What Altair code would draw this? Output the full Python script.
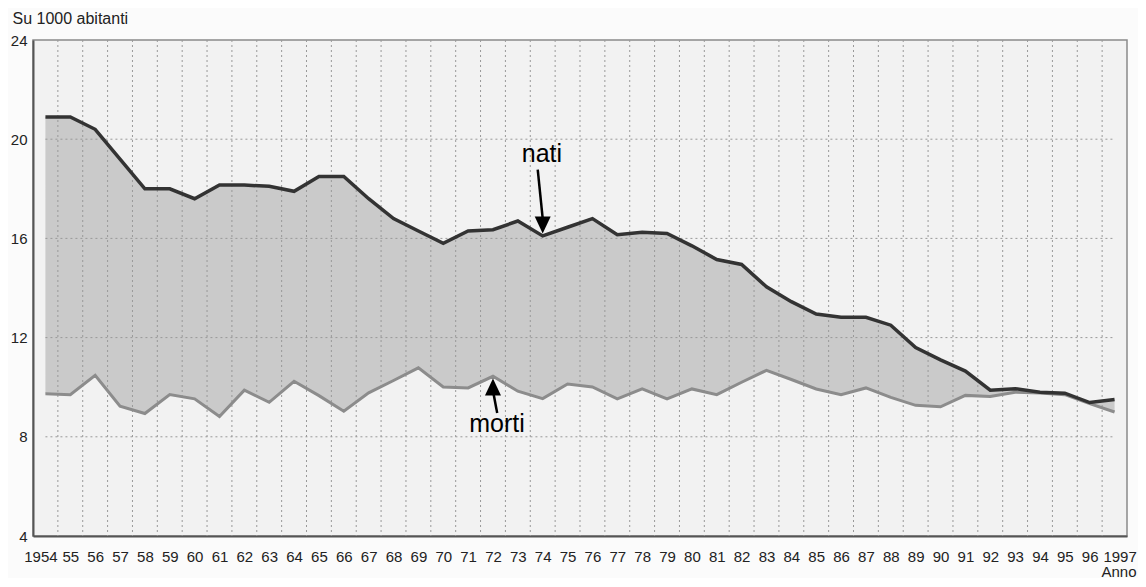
import altair as alt
import pandas as pd

# ---- data ----
years = list(range(1954, 1998))
nati = [20.9, 20.9, 20.4, 19.2, 18.0, 18.0, 17.6, 18.15, 18.15, 18.1,
        17.9, 18.5, 18.5, 17.6, 16.8, 16.3, 15.8, 16.3, 16.35, 16.7,
        16.1, 16.45, 16.8, 16.15, 16.25, 16.2, 15.7, 15.15, 14.95, 14.05,
        13.45, 12.95, 12.82, 12.82, 12.5, 11.6, 11.1, 10.65, 9.88, 9.94,
        9.8, 9.76, 9.38, 9.5]
morti = [9.74, 9.70, 10.48, 9.23, 8.94, 9.70, 9.53, 8.82, 9.88, 9.39,
         10.24, 9.66, 9.03, 9.77, 10.27, 10.78, 10.01, 9.97, 10.44, 9.84,
         9.54, 10.13, 10.01, 9.53, 9.93, 9.53, 9.93, 9.70, 10.2, 10.68,
         10.31, 9.93, 9.70, 9.97, 9.59, 9.27, 9.21, 9.67, 9.63, 9.80,
         9.77, 9.70, 9.34, 9.0]
y_ticks = [4, 8, 12, 16, 20, 24]
h_grid = [8, 12, 16, 20]
v_grid = [y + 0.5 for y in years[:-1]]

ann_text = ["nati", "morti"]
ann_x = [1973.97, 1972.16]
ann_y = [19.09, 8.18]
arrow_x = [1973.8, 1972.17]
arrow_x2 = [1974.0, 1972.02]
arrow_y = [18.77, 8.96]
arrow_y2 = [16.8, 9.75]
head_x = [1974.0, 1972.0]
head_y = [16.2, 10.35]
head_shape = ["M-0.47,-1L0.47,-1L0,0Z", "M-0.47,1L0.47,1L0,0Z"]

FONT = "Liberation Sans"

df = pd.DataFrame({"x": years, "nati": nati, "morti": morti})

x_scale = alt.Scale(domain=[1953.5, 1997.5], nice=False, zero=False)
y_scale = alt.Scale(domain=[4, 24], nice=False, zero=False)

x_axis = alt.Axis(
    values=years,
    labelExpr="datum.value == 1954 || datum.value == 1997 ? toString(datum.value) : substring(toString(datum.value), 2)",
    ticks=False, grid=False, domainColor="#555555", domainWidth=2,
    labelFont=FONT, labelFontSize=15, labelColor="#222222", labelPadding=13,
    labelOverlap=False,
    labelOffset={"condition": [{"test": "datum.value == 1954", "value": -5},
                               {"test": "datum.value == 1997", "value": 5}],
                 "value": 0},
    title="Anno", titleFont=FONT, titleFontSize=15, titleFontWeight="normal",
    titleColor="#222222", titleAlign="right", titleX=1103, titleY=40,
    titleBaseline="alphabetic",
)
y_axis = alt.Axis(
    values=y_ticks, ticks=False, grid=False, domainColor="#555555", domainWidth=2,
    labelFont=FONT, labelFontSize=15, labelColor="#222222", labelPadding=6,
    title="Su 1000 abitanti", titleFont=FONT, titleFontSize=16,
    titleFontWeight="normal", titleColor="#222222", titleAngle=0,
    titleAlign="left", titleBaseline="middle", titleX=-21, titleY=-22,
)

X = lambda f: alt.X(f, type="quantitative", scale=x_scale, axis=x_axis)
Y = lambda f: alt.Y(f, type="quantitative", scale=y_scale, axis=y_axis)

area = alt.Chart(df).mark_area(color="#cacaca", opacity=1).encode(
    x=X("x"), y=Y("morti"), y2="nati")

vgrid = alt.Chart(pd.DataFrame({"x": v_grid})).mark_rule(
    color="#999999", strokeDash=[2, 3], strokeWidth=1).encode(x=X("x"))

hgrid = alt.Chart(pd.DataFrame({"y": h_grid, "x0": years[0], "x1": years[-1]})).mark_rule(
    color="#999999", strokeDash=[2, 3], strokeWidth=1).encode(
    x=X("x0"), x2="x1", y=Y("y"))

line_morti = alt.Chart(df).mark_line(color="#8c8c8c", strokeWidth=3).encode(
    x=X("x"), y=Y("morti"))
line_nati = alt.Chart(df).mark_line(color="#333333", strokeWidth=3.5).encode(
    x=X("x"), y=Y("nati"))

arrows = alt.Chart(pd.DataFrame({"x": arrow_x, "x2": arrow_x2, "y": arrow_y, "y2": arrow_y2})).mark_rule(
    color="#000000", strokeWidth=2.5).encode(x=X("x"), x2="x2", y=Y("y"), y2="y2")

heads = alt.Chart(pd.DataFrame({"x": head_x, "y": head_y, "s": head_shape})).mark_point(
    filled=True, color="#000000", opacity=1, size=1156).encode(
    x=X("x"), y=Y("y"), shape=alt.Shape("s:N", scale=None))

texts = alt.Chart(pd.DataFrame({"x": ann_x, "y": ann_y, "t": ann_text})).mark_text(
    font=FONT, fontSize=25, color="#000000", align="center", baseline="alphabetic").encode(
    x=X("x"), y=Y("y"), text="t:N")

chart = alt.layer(area, vgrid, hgrid, line_morti, line_nati, arrows, heads, texts).properties(
    width=1094, height=496,
    padding={"left": 25, "top": 32, "right": 11, "bottom": 42},
    autosize=alt.AutoSizeParams(type="none"),
    background="#fbfbfb",
).configure_view(fill="#f2f2f2", stroke="#8a8a8a", strokeWidth=1.5)

chart.save("out.html", embed_options={"renderer": "svg", "actions": False})
